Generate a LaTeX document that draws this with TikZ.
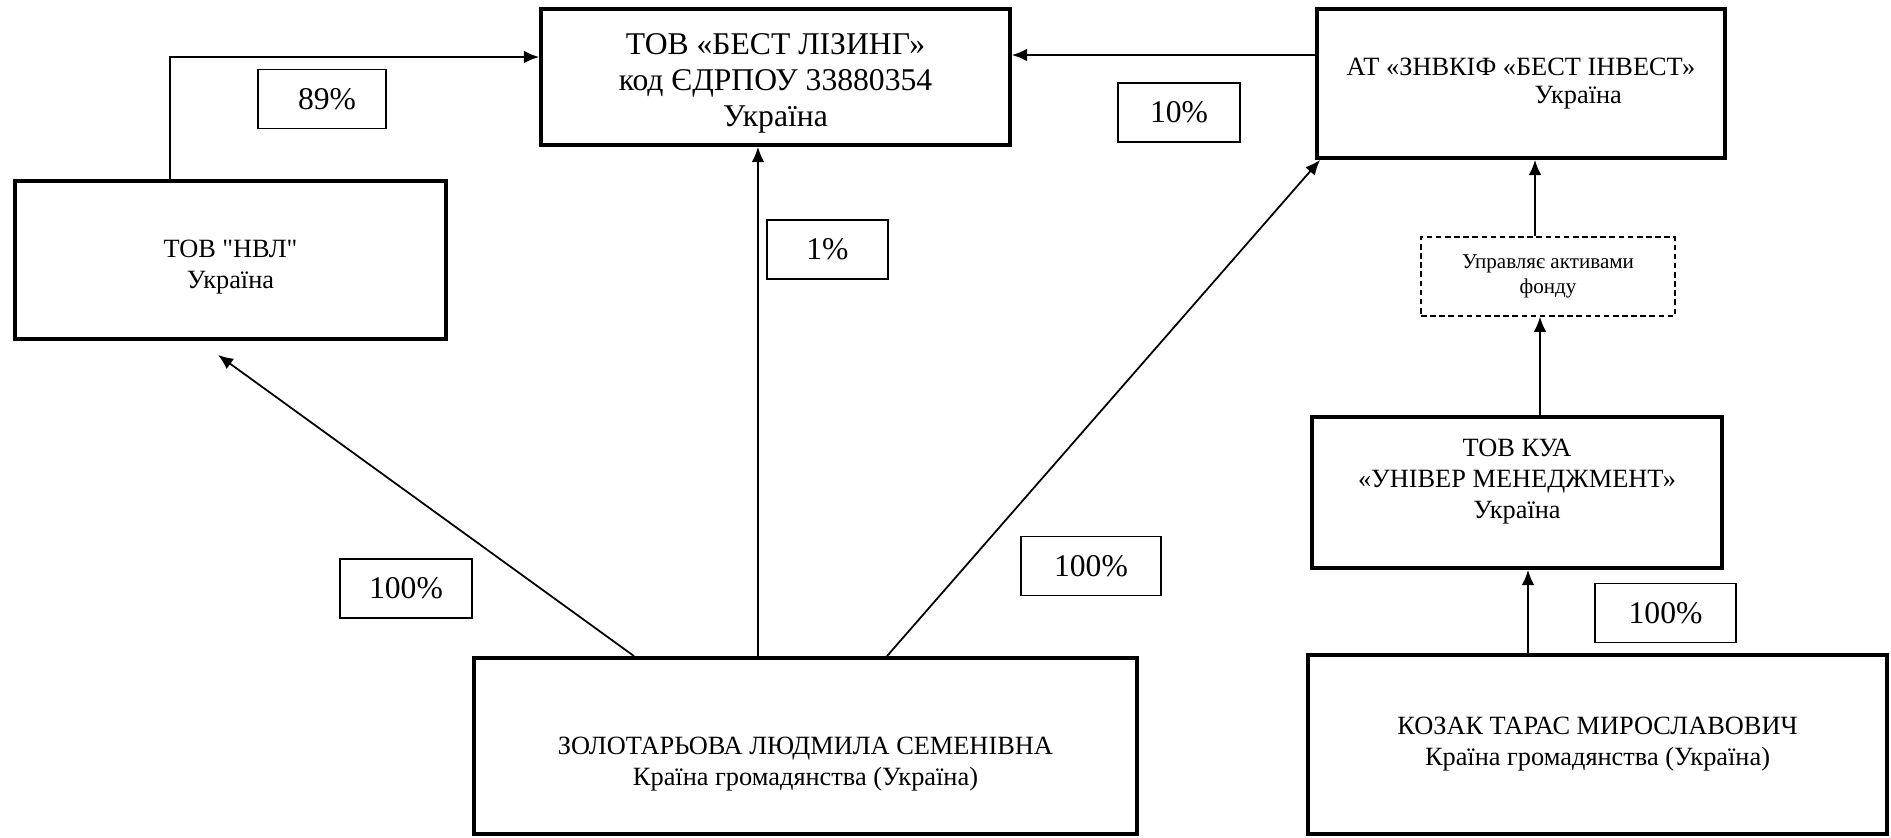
\documentclass[tikz,border=0pt]{standalone}
\usepackage{fontspec}
\setmainfont{Liberation Serif}
\usetikzlibrary{arrows.meta}
\begin{document}
\begin{tikzpicture}[
  firm/.style={draw, line width=1.1pt, align=center, inner sep=0pt, font=\fontsize{7.5}{8.8}\selectfont},
  share/.style={draw, line width=0.35pt, inner sep=0pt, minimum height=0.59cm, font=\fontsize{9}{10}\selectfont},
  fund/.style={draw, dash pattern=on 1.6pt off 1pt, line width=0.4pt, align=center, font=\fontsize{6}{7.1}\selectfont},
  link/.style={-{Latex[length=4.3pt,width=3.6pt]}, line width=0.5pt}]
\useasboundingbox (0,0) rectangle (18.91,-8.37);
% companies
\node[firm, minimum width=4.69cm, minimum height=1.36cm, font=\fontsize{9}{10.2}\selectfont] (lizing) at (7.755,-0.77) {\rule{0pt}{0.34cm}ТОВ «БЕСТ ЛІЗИНГ»\\код ЄДРПОУ 33880354\\Україна};
\node[firm, minimum width=4.31cm, minimum height=1.58cm] (nvl) at (2.305,-2.6) {\rule{0pt}{0.31cm}ТОВ \textquotedbl НВЛ\textquotedbl\\Україна};
\node[firm, minimum width=4.08cm, minimum height=1.49cm, align=left, font=\fontsize{7.5}{8}\selectfont] (invest) at (15.21,-0.835) {АТ «ЗНВКІФ «БЕСТ ІНВЕСТ»\\\hspace*{1.88cm}Україна};
\node[fund, minimum width=2.54cm, minimum height=0.79cm] (manage) at (15.48,-2.765) {Управляє активами\\фонду};
\node[firm, minimum width=4.10cm, minimum height=1.51cm] (univer) at (15.17,-4.925) {ТОВ КУА\\«УНІВЕР МЕНЕДЖМЕНТ»\\Україна\rule[-0.27cm]{0pt}{0.27cm}};
% persons
\node[firm, minimum width=6.63cm, minimum height=1.76cm] (zolotar) at (8.055,-7.46) {\rule{0pt}{0.53cm}ЗОЛОТАРЬОВА ЛЮДМИЛА СЕМЕНІВНА\\Країна громадянства (Україна)};
\node[firm, minimum width=5.79cm, minimum height=1.79cm] (kozak) at (15.975,-7.445) {КОЗАК ТАРАС МИРОСЛАВОВИЧ\\Країна громадянства (Україна)};
% shares
\node[share, minimum width=1.28cm] (s89) at (3.22,-0.99) {\hspace*{1mm}89\%};
\node[share, minimum width=1.21cm] (s1) at (8.275,-2.495) {1\%};
\node[share, minimum width=1.22cm] (s10) at (11.79,-1.125) {10\%};
\node[share, minimum width=1.32cm] (s100a) at (4.06,-5.885) {100\%};
\node[share, minimum width=1.40cm] (s100b) at (10.91,-5.66) {100\%};
\node[share, minimum width=1.41cm] (s100c) at (16.655,-6.13) {100\%};
% arrows
\coordinate (z1) at ([xshift=-17.15mm]zolotar.north);
\coordinate (z2) at ([xshift=-4.75mm]zolotar.north);
\coordinate (z3) at ([xshift=8.15mm]zolotar.north);
\coordinate (n1) at ([xshift=-6.05mm]nvl.north);
\coordinate (n2) at ([shift={(-1.25mm,-1.4mm)}]nvl.south);
\coordinate (l1) at ([yshift=2mm]lizing.west);
\coordinate (i1) at ([yshift=2.85mm]invest.west);
\coordinate (m1) at ([xshift=-1.3mm]manage.north);
\coordinate (u1) at ([xshift=2.3mm]univer.north);
\coordinate (k1) at ([xshift=-6.95mm]kozak.north);
\draw[link] (n1) |- (l1);
\draw[link] (i1) -- (i1 -| lizing.east);
\draw[link] (z2) -- (z2 |- lizing.south);
\draw[link] (z1) -- (n2);
\draw[link] (z3) -- ([xshift=0.5mm]invest.south west);
\draw[link] (m1) -- (m1 |- invest.south);
\draw[link] (u1) -- (u1 |- manage.south);
\draw[link] (k1) -- (k1 |- univer.south);
\end{tikzpicture}
\end{document}
